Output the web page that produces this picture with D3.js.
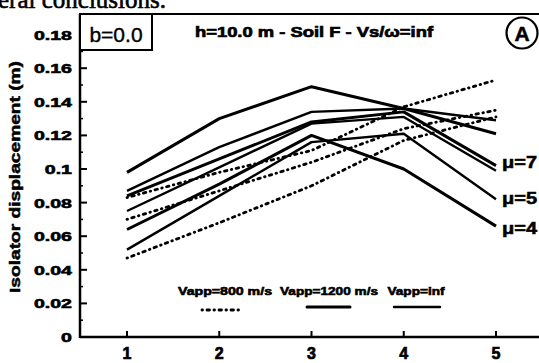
<!DOCTYPE html>
<html>
<head>
<meta charset="utf-8">
<script src="https://cdn.jsdelivr.net/npm/d3@7"></script>
<style>
  body { margin: 0; background: #fff; }
  svg { display: block; }
  text { fill: #000; }
</style>
</head>
<body>
<svg class="chart"></svg>
<script>
const width = 539;
const height = 363;

// mode number on the x axis
const modes = [1, 2, 3, 4, 5];
const yTicks = [0, 0.02, 0.04, 0.06, 0.08, 0.1, 0.12, 0.14, 0.16, 0.18];
const yTickLabels = ["0", "0.02", "0.04", "0.06", "0.08", "0.1", "0.12", "0.14", "0.16", "0.18"];

// Vapp = 800 m/s (dotted)
const vapp800 = [
  [0.083, 0.098, 0.111, 0.137, 0.153],
  [0.070, 0.087, 0.104, 0.124, 0.135],
  [0.047, 0.068, 0.090, 0.117, 0.131]
];
// Vapp = 1200 m/s (thick)
const vapp1200 = [
  [0.098, 0.130, 0.149, 0.136, 0.121],
  [0.084, 0.106, 0.128, 0.134, 0.102],
  [0.064, 0.091, 0.120, 0.100, 0.066]
];
// Vapp = inf (thin)
const vappInf = [
  [0.087, 0.113, 0.134, 0.136, 0.129],
  [0.075, 0.101, 0.127, 0.131, 0.099],
  [0.052, 0.084, 0.116, 0.121, 0.082]
];
const muLabels = [{ t: "\u03bc=7", v: 0.104 }, { t: "\u03bc=5", v: 0.083 }, { t: "\u03bc=4", v: 0.065 }];

const svg = d3.select('.chart').attr('width', width).attr('height', height);

const x = d3.scaleLinear().domain([1, 5]).range([127, 496]);
const y = d3.scaleLinear().domain([0, 0.18]).range([337, 34.6]);
const plotLeft = 80, plotTop = 14, plotBottom = 337;
const sans = '"Liberation Sans", Arial, sans-serif';
const dotted = '0.5,4.5,2.5,4.5';

const line = d3.line().x((d, i) => x(modes[i])).y(d => y(d));

// fragment of the page text above the figure
svg.append('text')
  .attr('x', -2).attr('y', 8)
  .style('font-family', '"Liberation Serif", serif')
  .style('font-size', '25px')
  .style('stroke', '#000').style('stroke-width', 0.6)
  .text('eral conclusions.');

// frame: top border, left and bottom axes
svg.append('line').attr('x1', plotLeft).attr('x2', width).attr('y1', plotTop).attr('y2', plotTop)
  .style('stroke', '#000').style('stroke-width', 2.2);
svg.append('line').attr('x1', plotLeft).attr('x2', plotLeft).attr('y1', plotTop).attr('y2', plotBottom + 1)
  .style('stroke', '#000').style('stroke-width', 2.5);
svg.append('line').attr('x1', plotLeft).attr('x2', width).attr('y1', plotBottom).attr('y2', plotBottom)
  .style('stroke', '#000').style('stroke-width', 2.5);

// y ticks (inside) with minor ticks
const minor = d3.range(0.01, 0.18, 0.02);
svg.selectAll('.ytick').data(yTicks).enter().append('line')
  .attr('x1', plotLeft).attr('x2', plotLeft + 7)
  .attr('y1', d => y(d)).attr('y2', d => y(d))
  .style('stroke', '#000').style('stroke-width', 2);
svg.selectAll('.ymin').data(minor).enter().append('line')
  .attr('x1', plotLeft).attr('x2', plotLeft + 3)
  .attr('y1', d => y(d)).attr('y2', d => y(d))
  .style('stroke', '#000').style('stroke-width', 1.5);
svg.selectAll('.ylab').data(yTicks).enter().append('text')
  .attr('transform', d => 'translate(72,' + (y(d) + 5) + ') scale(1.45,1)')
  .attr('text-anchor', 'end')
  .style('font-family', sans)
  .style('font-weight', 'bold').style('font-size', '13.5px')
  .style('stroke', '#000').style('stroke-width', 0.6)
  .text((d, i) => yTickLabels[i]);

// x ticks (inside)
svg.selectAll('.xtick').data(modes).enter().append('line')
  .attr('x1', d => x(d)).attr('x2', d => x(d))
  .attr('y1', plotBottom).attr('y2', plotBottom - 6)
  .style('stroke', '#000').style('stroke-width', 2);
svg.selectAll('.xlab').data(modes).enter().append('text')
  .attr('x', d => x(d)).attr('y', 359)
  .attr('text-anchor', 'middle')
  .style('font-family', sans)
  .style('font-weight', 'bold').style('font-size', '16px')
  .style('stroke', '#000').style('stroke-width', 0.7)
  .text(d => d);

// y axis title
svg.append('text')
  .attr('transform', 'translate(20,177) rotate(-90)')
  .attr('x', 0).attr('y', 0)
  .attr('text-anchor', 'middle')
  .attr('textLength', 232).attr('lengthAdjust', 'spacingAndGlyphs')
  .style('font-family', sans)
  .style('font-weight', 'bold').style('font-size', '15px')
  .style('stroke', '#000').style('stroke-width', 0.5)
  .text('Isolator displacement (m)');

// series
svg.selectAll('.d800').data(vapp800).enter().append('path')
  .attr('d', line)
  .style('fill', 'none').style('stroke', '#000')
  .style('stroke-width', 2.8).style('stroke-linecap', 'round')
  .style('stroke-dasharray', dotted);
svg.selectAll('.d1200').data(vapp1200).enter().append('path')
  .attr('d', line)
  .style('fill', 'none').style('stroke', '#000')
  .style('stroke-width', 3).style('stroke-linejoin', 'round');
svg.selectAll('.dinf').data(vappInf).enter().append('path')
  .attr('d', line)
  .style('fill', 'none').style('stroke', '#000')
  .style('stroke-width', 2.4).style('stroke-linejoin', 'round');

// mu labels
svg.selectAll('.mu').data(muLabels).enter().append('text')
  .attr('transform', d => 'translate(502,' + (y(d.v) + 6) + ') scale(1.25,1)')
  .style('font-family', sans)
  .style('font-weight', 'bold').style('font-size', '16px')
  .style('stroke', '#000').style('stroke-width', 0.5)
  .text(d => d.t);

// b=0.0 box
svg.append('rect').attr('x', plotLeft).attr('y', plotTop).attr('width', 72).attr('height', 36)
  .style('fill', '#fff').style('stroke', '#000').style('stroke-width', 2);
svg.append('text')
  .attr('x', 116).attr('y', 42)
  .attr('text-anchor', 'middle')
  .style('font-family', sans)
  .style('font-size', '21px')
  .style('stroke', '#000').style('stroke-width', 0.4)
  .text('b=0.0');

// title
svg.append('text')
  .attr('x', 195).attr('y', 37)
  .attr('textLength', 238).attr('lengthAdjust', 'spacingAndGlyphs')
  .style('font-family', sans)
  .style('font-weight', 'bold').style('font-size', '15px')
  .style('stroke', '#000').style('stroke-width', 0.7)
  .text('h=10.0 m - Soil F - Vs/\u03c9=inf');

// (A) marker
svg.append('circle').attr('cx', 522).attr('cy', 33).attr('r', 15.5)
  .style('fill', '#fff').style('stroke', '#000').style('stroke-width', 2.2);
svg.append('text')
  .attr('x', 522).attr('y', 40.5).attr('text-anchor', 'middle')
  .style('font-family', sans)
  .style('font-weight', 'bold').style('font-size', '21px')
  .style('stroke', '#000').style('stroke-width', 0.5)
  .text('A');

// legend
const legendItems = [
  { t: 'Vapp=800 m/s', cx: 225, len: 94, x1: 202, x2: 243, ly: 310, dash: dotted, w: 2.8 },
  { t: 'Vapp=1200 m/s', cx: 329, len: 98, x1: 307, x2: 350, ly: 307, dash: null, w: 3 },
  { t: 'Vapp=inf', cx: 416, len: 57, x1: 394, x2: 440, ly: 307, dash: null, w: 2.4 }
];
const legend = svg.append('g');
legend.selectAll('text').data(legendItems).enter().append('text')
  .attr('x', d => d.cx).attr('y', 295).attr('text-anchor', 'middle')
  .attr('textLength', d => d.len).attr('lengthAdjust', 'spacingAndGlyphs')
  .style('font-family', sans)
  .style('font-weight', 'bold').style('font-size', '11px')
  .style('stroke', '#000').style('stroke-width', 0.6)
  .text(d => d.t);
legend.selectAll('line').data(legendItems).enter().append('line')
  .attr('x1', d => d.x1).attr('x2', d => d.x2).attr('y1', d => d.ly).attr('y2', d => d.ly)
  .style('stroke', '#000').style('stroke-width', d => d.w)
  .style('stroke-linecap', 'round')
  .style('stroke-dasharray', d => d.dash);
</script>
</body>
</html>
